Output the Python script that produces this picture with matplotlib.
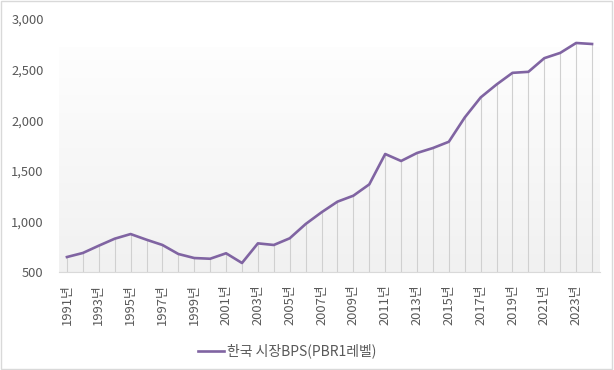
import numpy as np
import matplotlib
matplotlib.use('Agg')
import matplotlib.pyplot as plt
from matplotlib.patches import Rectangle

plt.rcParams['font.family'] = ['Noto Sans CJK KR', 'DejaVu Sans']

# data
years = list(range(1991, 2025))
bps = [648, 688, 760, 829, 875, 819, 767, 678, 638, 631,
       685, 589, 783, 767, 833, 974, 1090, 1195, 1254, 1366,
       1666, 1597, 1676, 1725, 1787, 2027, 2225, 2353, 2468, 2478,
       2613, 2665, 2763, 2753]
labels = [f'{y}년' if (y - 1991) % 2 == 0 else '' for y in years]
series_name = '한국 시장BPS(PBR1레벨)'

line_color = '#8064A2'
text_color = '#595959'

fig = plt.figure(figsize=(6.14, 3.70), dpi=100)
ax = fig.add_axes([59 / 614, 1 - 272 / 370, 541 / 614, 253 / 370])

x = np.arange(len(years))

# light gradient in plot area
grad = np.linspace(0.995, 0.945, 256).reshape(-1, 1)
ax.imshow(np.dstack([grad, grad, grad]), aspect='auto',
          extent=(-0.5, len(years) - 0.5, 500, 2715), zorder=0)

# drop lines
ax.vlines(x, 500, bps, color='#d0d0d0', linewidth=0.8, zorder=1)
line, = ax.plot(x, bps, color=line_color, linewidth=1.9, zorder=3,
                solid_joinstyle='round', label=series_name)

ax.set_xlim(-0.5, len(years) - 0.5)
ax.set_ylim(500, 3000)
ax.set_yticks(range(500, 3001, 500))
ax.set_yticklabels([f'{v:,}' for v in range(500, 3001, 500)])
ax.set_xticks(x)
ax.set_xticklabels(labels, rotation=90)
ax.tick_params(axis='both', length=0, colors=text_color, labelsize=9.3)
ax.tick_params(axis='x', pad=9)
ax.tick_params(axis='y', pad=11)

for s in ['top', 'right', 'left']:
    ax.spines[s].set_visible(False)
ax.spines['bottom'].set_color('#d9d9d9')

fig.legend(handles=[line], loc='center', bbox_to_anchor=(287 / 614, 1 - 351 / 370),
           frameon=False, fontsize=10, labelcolor=text_color,
           handlelength=1.9, handletextpad=0.2)

# outer chart border
fig.patches.append(Rectangle((0.002, 0.003), 0.994, 0.994, transform=fig.transFigure,
                             fill=False, edgecolor='#d9d9d9', linewidth=1))

fig.savefig('out.png', dpi=100)
